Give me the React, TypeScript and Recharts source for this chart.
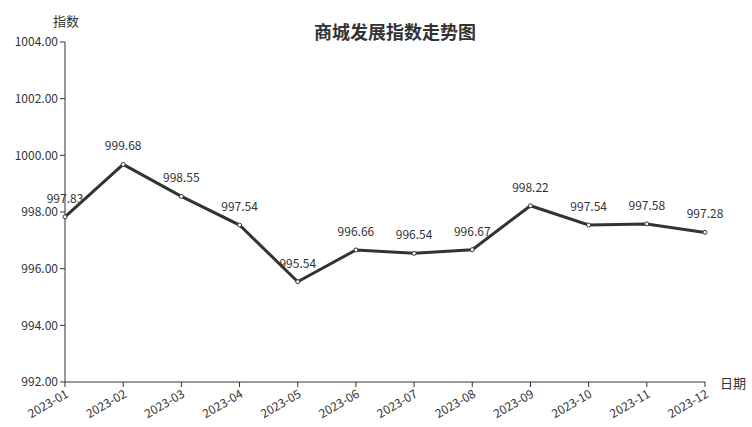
import React from 'react';
import { LineChart, Line, XAxis, YAxis, LabelList } from 'recharts';

const months = ['2023-01', '2023-02', '2023-03', '2023-04', '2023-05', '2023-06', '2023-07', '2023-08', '2023-09', '2023-10', '2023-11', '2023-12'];
const indexValues = [997.83, 999.68, 998.55, 997.54, 995.54, 996.66, 996.54, 996.67, 998.22, 997.54, 997.58, 997.28];
const yTicks = [992, 994, 996, 998, 1000, 1002, 1004];

const data = months.map((m, i) => ({ month: m, value: indexValues[i] }));

const FONT = '"Noto Sans CJK SC", "Noto Sans", sans-serif';

export default function App() {
    return (
        <div style={{ position: 'relative', width: 752, height: 427, fontFamily: FONT, color: '#333' }}>
            <style>{'body{margin:0}'}</style>
            <div style={{ position: 'absolute', left: 0, width: 790, top: 18, textAlign: 'center', fontSize: 18, fontWeight: 'bold', color: '#333' }}>
                商城发展指数走势图
            </div>
            <div style={{ position: 'absolute', left: 53, top: 11, fontSize: 13, color: '#333' }}>指数</div>
            <div style={{ position: 'absolute', left: 720, top: 373, fontSize: 13, color: '#333' }}>日期</div>
            <LineChart
                width={752}
                height={427}
                data={data}
                margin={{ top: 42, right: 47, left: 5, bottom: 0 }}
                style={{ position: 'absolute', left: 0, top: 0 }}
            >
                <XAxis
                    dataKey="month"
                    height={45}
                    interval={0}
                    angle={-30}
                    textAnchor="end"
                    tickSize={5}
                    stroke="#333"
                    strokeWidth={1}
                    tick={{ fill: '#333', fontSize: 12, fontFamily: FONT }}
                />
                <YAxis
                    width={60}
                    domain={[992, 1004]}
                    ticks={yTicks}
                    interval={0}
                    tickFormatter={(v: number) => v.toFixed(2)}
                    tickSize={5}
                    stroke="#333"
                    strokeWidth={1}
                    tick={{ fill: '#333', fontSize: 12, fontFamily: FONT }}
                />
                <Line
                    type="linear"
                    dataKey="value"
                    stroke="#333"
                    strokeWidth={3}
                    dot={{ r: 2, fill: '#fff', stroke: '#333', strokeWidth: 1 }}
                    isAnimationActive={false}
                >
                    <LabelList dataKey="value" position="top" offset={14} fill="#333" fontSize={12} fontFamily={FONT} formatter={(v: number) => v.toFixed(2)} />
                </Line>
            </LineChart>
        </div>
    );
}
